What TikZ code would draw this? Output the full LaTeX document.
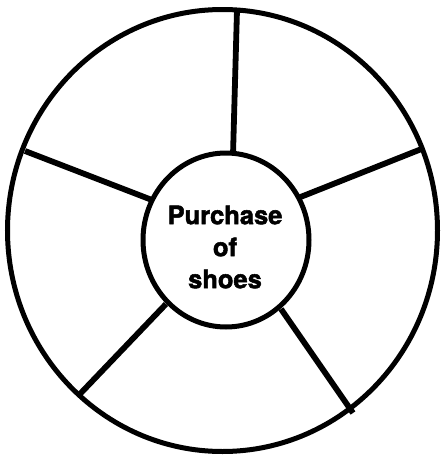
\documentclass[tikz,border=0pt]{standalone}
\usepackage{fontspec}
\setmainfont{TeX Gyre Heros}
\newfontfamily\heavyfont[BoldFeatures={FakeBold=2}]{TeX Gyre Heros}
\usetikzlibrary{shapes.geometric}
\begin{document}
\begin{tikzpicture}[x=1pt,y=-1pt,
  ring/.style={draw=black,line width=5pt},
  spoke/.style={draw=black,line width=5.8pt},
  hub/.style={ellipse,draw=black,line width=5pt,minimum width=166pt,minimum height=174pt,inner sep=0pt},
  hubtext/.style={inner sep=0pt,font=\heavyfont\fontsize{25.5}{32}\selectfont\bfseries,align=center}]
\useasboundingbox (0,0) rectangle (442,458);
\draw[ring] (222.5,230.5) ellipse [x radius=215, y radius=221];
\node[hub] (c) at (226,240) {};
\node[hubtext] (txt) at (225,247) {Purchase\\of\\shoes};
\coordinate (t1) at (237,10);  \coordinate (t2) at (233,155);
\coordinate (r1) at (424,148); \coordinate (r2) at (298,198);
\coordinate (q1) at (281,309); \coordinate (q2) at (353,413);
\coordinate (l1) at (166,304); \coordinate (l2) at (79,395);
\coordinate (u1) at (25,151);  \coordinate (u2) at (152,200);
\draw[spoke] (t1) -- (t2);
\draw[spoke] (r1) -- (r2);
\draw[spoke] (q1) -- (q2);
\draw[spoke] (l1) -- (l2);
\draw[spoke] (u1) -- (u2);
\end{tikzpicture}
\end{document}
